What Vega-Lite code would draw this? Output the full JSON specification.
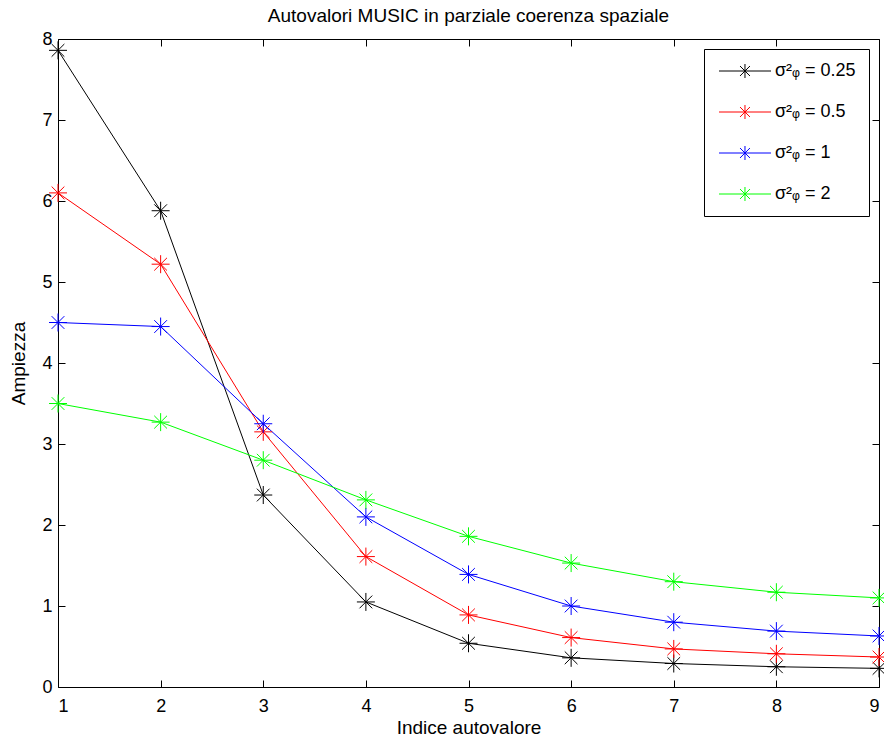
{
  "$schema": "https://vega.github.io/schema/vega-lite/v6.json",
  "width": 821,
  "height": 648,
  "autosize": {"type": "none"},
  "padding": {"left": 58, "top": 39, "right": 5, "bottom": 52},
  "background": "white",
  "title": {"text": "Autovalori MUSIC in parziale coerenza spaziale", "font": "Liberation Sans", "fontSize": 19, "fontWeight": "normal", "color": "black", "offset": 4},
  "config": {
    "view": {"stroke": "black", "strokeWidth": 1},
    "axis": {"grid": false, "domain": false, "tickColor": "black", "tickSize": -7, "labelColor": "black", "labelFont": "Liberation Sans", "labelFontSize": 18, "titleFont": "Liberation Sans", "titleFontSize": 19, "titleFontWeight": "normal", "titleColor": "black"},
    "legend": {"strokeWidth": 1}
  },
  "resolve": {"axis": {"x": "independent", "y": "independent"}},
  "data": {"values": [
    {"serie": "σ²ᵩ = 0.25", "i": 1, "v": 7.86},
    {"serie": "σ²ᵩ = 0.25", "i": 2, "v": 5.88},
    {"serie": "σ²ᵩ = 0.25", "i": 3, "v": 2.37},
    {"serie": "σ²ᵩ = 0.25", "i": 4, "v": 1.05},
    {"serie": "σ²ᵩ = 0.25", "i": 5, "v": 0.54},
    {"serie": "σ²ᵩ = 0.25", "i": 6, "v": 0.36},
    {"serie": "σ²ᵩ = 0.25", "i": 7, "v": 0.29},
    {"serie": "σ²ᵩ = 0.25", "i": 8, "v": 0.25},
    {"serie": "σ²ᵩ = 0.25", "i": 9, "v": 0.23},
    {"serie": "σ²ᵩ = 0.5", "i": 1, "v": 6.10},
    {"serie": "σ²ᵩ = 0.5", "i": 2, "v": 5.22},
    {"serie": "σ²ᵩ = 0.5", "i": 3, "v": 3.15},
    {"serie": "σ²ᵩ = 0.5", "i": 4, "v": 1.61},
    {"serie": "σ²ᵩ = 0.5", "i": 5, "v": 0.89},
    {"serie": "σ²ᵩ = 0.5", "i": 6, "v": 0.61},
    {"serie": "σ²ᵩ = 0.5", "i": 7, "v": 0.47},
    {"serie": "σ²ᵩ = 0.5", "i": 8, "v": 0.41},
    {"serie": "σ²ᵩ = 0.5", "i": 9, "v": 0.37},
    {"serie": "σ²ᵩ = 1", "i": 1, "v": 4.50},
    {"serie": "σ²ᵩ = 1", "i": 2, "v": 4.45},
    {"serie": "σ²ᵩ = 1", "i": 3, "v": 3.25},
    {"serie": "σ²ᵩ = 1", "i": 4, "v": 2.10},
    {"serie": "σ²ᵩ = 1", "i": 5, "v": 1.39},
    {"serie": "σ²ᵩ = 1", "i": 6, "v": 1.00},
    {"serie": "σ²ᵩ = 1", "i": 7, "v": 0.80},
    {"serie": "σ²ᵩ = 1", "i": 8, "v": 0.69},
    {"serie": "σ²ᵩ = 1", "i": 9, "v": 0.63},
    {"serie": "σ²ᵩ = 2", "i": 1, "v": 3.50},
    {"serie": "σ²ᵩ = 2", "i": 2, "v": 3.27},
    {"serie": "σ²ᵩ = 2", "i": 3, "v": 2.80},
    {"serie": "σ²ᵩ = 2", "i": 4, "v": 2.31},
    {"serie": "σ²ᵩ = 2", "i": 5, "v": 1.86},
    {"serie": "σ²ᵩ = 2", "i": 6, "v": 1.53},
    {"serie": "σ²ᵩ = 2", "i": 7, "v": 1.30},
    {"serie": "σ²ᵩ = 2", "i": 8, "v": 1.17},
    {"serie": "σ²ᵩ = 2", "i": 9, "v": 1.10}
  ]},
  "layer": [
    {
      "mark": {"type": "line", "strokeWidth": 1, "point": {"filled": false, "shape": "M0,-1L0,1M-1,0L1,0M-0.707,-0.707L0.707,0.707M-0.707,0.707L0.707,-0.707", "size": 324, "strokeWidth": 1}},
      "encoding": {
        "x": {"field": "i", "type": "quantitative", "scale": {"domain": [1, 9], "nice": false, "zero": false}, "axis": {"orient": "bottom", "values": [1,2,3,4,5,6,7,8,9], "format": "d", "labelPadding": 17, "title": "Indice autovalore", "titlePadding": 3}},
        "y": {"field": "v", "type": "quantitative", "scale": {"domain": [0, 8], "nice": false}, "axis": {"orient": "left", "values": [0,1,2,3,4,5,6,7,8], "format": "d", "labelPadding": 13, "title": "Ampiezza", "titlePadding": 13}},
        "color": {"field": "serie", "type": "nominal", "sort": null,
          "scale": {"domain": ["σ²ᵩ = 0.25", "σ²ᵩ = 0.5", "σ²ᵩ = 1", "σ²ᵩ = 2"], "range": ["#000000", "#ff0000", "#0000ff", "#00ff00"]},
          "legend": {"title": null, "orient": "none", "legendX": 646, "legendY": 10, "strokeColor": "black", "fillColor": "white", "padding": 13, "symbolType": "M-1,0L6.43,0M2.71,-1L2.71,1M2.0,-0.71L3.42,0.71M2.0,0.71L3.42,-0.71", "symbolSize": 196, "symbolStrokeWidth": 1, "symbolFillColor": "transparent", "labelFont": "Liberation Sans", "labelFontSize": 18, "labelColor": "black", "labelOffset": 40, "rowPadding": 23}}
      }
    },
    {
      "mark": {"type": "point", "opacity": 0},
      "encoding": {
        "x": {"field": "i", "type": "quantitative", "axis": {"orient": "top", "values": [1,2,3,4,5,6,7,8,9], "labels": false, "title": null}},
        "y": {"field": "v", "type": "quantitative", "axis": {"orient": "right", "values": [0,1,2,3,4,5,6,7,8], "labels": false, "title": null}}
      }
    }
  ]
}
